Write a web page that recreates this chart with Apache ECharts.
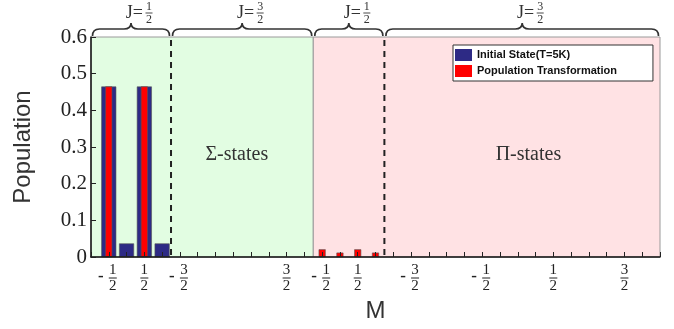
<!DOCTYPE html>
<html><head><meta charset="utf-8">
<script src="https://cdn.jsdelivr.net/npm/echarts@6/dist/echarts.min.js"></script>
<style>html,body{margin:0;padding:0;background:#fff}#c{width:674px;height:329px}</style>
</head><body><div id="c"></div>
<script>
// ---- data ----
const mPositions   = [1, 2, 3, 4, 13, 14, 15, 16];
const initialState = [0.465, 0.037, 0.465, 0.037, 0, 0, 0, 0];
const transformed  = [0.465, 0, 0.465, 0, 0.021, 0.012, 0.021, 0.012];

const tickLabelPos  = [1, 3, 5, 11, 13, 15, 18, 22, 26, 30];
const tickLabelSign = ['-', '', '-', '', '-', '', '-', '-', '', ''];
const tickLabelNum  = ['1', '1', '3', '3', '1', '1', '3', '1', '1', '3'];
const tickLabelDen  = ['2', '2', '2', '2', '2', '2', '2', '2', '2', '2'];

const braceStart = [0, 4.5, 12.5, 16.5];
const braceEnd   = [4.5, 12.5, 16.5, 32];
const braceNum   = ['1', '3', '1', '3'];
const braceDen   = ['2', '2', '2', '2'];

const regionStart  = [0, 12.5];
const regionEnd    = [12.5, 32];
const regionNames  = ['Σ-states', 'Π-states'];
const regionLabelX = [8.2, 24.6];
const regionLabelY = [0.28, 0.28];

const dividers = [4.5, 16.5];
const xMin = 0, xMax = 32, yMin = 0, yMax = 0.6, yStep = 0.1;
const seriesNames = ['Initial State(T=5K)', 'Population Transformation'];

// ---- styles ----
const regionFills = ['#e2fde2', '#ffe2e4'];
const blue = '#2d2a85', red = '#ff0000';
const serif = 'Liberation Serif';

const chart = echarts.init(document.getElementById('c'), null, {renderer: 'canvas'});

function pairs(xs, ys) {
  const out = [];
  xs.forEach((x, i) => { if (ys[i] > 0) out.push([x, ys[i]]); });
  return out;
}

const xAxisBase = {
  type: 'value', min: xMin, max: xMax, interval: 1, z: 5,
  axisLine: {show: true, onZero: false, lineStyle: {color: '#111', width: 1.5}},
  axisTick: {show: true, inside: true, length: 5, lineStyle: {color: '#222', width: 1}},
  axisLabel: {show: false}, splitLine: {show: false}
};

const option = {
  animation: false,
  backgroundColor: '#fff',
  grid: {left: 91, right: 14, top: 37, bottom: 72, containLabel: false},
  legend: {
    data: seriesNames, orient: 'vertical', left: 453, top: 45,
    itemWidth: 17, itemHeight: 12, itemGap: 4,
    padding: [4, 36, 4, 2], backgroundColor: '#fff', borderColor: '#333', borderWidth: 1,
    icon: 'rect', z: 10,
    textStyle: {fontFamily: 'Liberation Sans', fontWeight: 'bold', fontSize: 11, color: '#111'},
    itemStyle: {borderWidth: 0}
  },
  xAxis: [
    Object.assign({}, xAxisBase, {name: 'M', nameLocation: 'middle', nameGap: 42,
      nameTextStyle: {fontFamily: 'Liberation Sans', fontSize: 24, color: '#333'}}),
    Object.assign({}, xAxisBase, {show: false})
  ],
  yAxis: {
    type: 'value', min: yMin, max: yMax, interval: yStep, z: 5,
    name: 'Population', nameLocation: 'middle', nameGap: 56,
    nameTextStyle: {fontFamily: 'Liberation Sans', fontSize: 24, color: '#333'},
    axisLine: {show: true, lineStyle: {color: '#111', width: 1.5}},
    axisTick: {show: true, inside: true, length: 5, lineStyle: {color: '#222'}},
    axisLabel: {fontFamily: serif, fontSize: 21, color: '#222', margin: 4},
    splitLine: {show: false}
  },
  series: [
    { // backgrounds
      type: 'custom', z: 1, silent: true,
      data: regionStart.map((s, i) => [s, regionEnd[i]]),
      renderItem: function (params, api) {
        const i = params.dataIndex;
        const a = api.coord([regionStart[i], yMax]);
        const b = api.coord([regionEnd[i], yMin]);
        return {type: 'rect', shape: {x: a[0], y: a[1], width: b[0] - a[0], height: b[1] - a[1]},
          style: {fill: regionFills[i], stroke: '#9a9a9a', lineWidth: 1}};
      }
    },
    { // region names
      type: 'custom', z: 2, silent: true,
      data: regionLabelX.map((x, i) => [x, regionLabelY[i]]),
      renderItem: function (params, api) {
        const i = params.dataIndex;
        const p = api.coord([regionLabelX[i], regionLabelY[i]]);
        return {type: 'text', x: p[0], y: p[1],
          style: {text: regionNames[i], fontFamily: serif, fontSize: 20, fill: '#333', align: 'center', verticalAlign: 'middle'}};
      }
    },
    { // dashed dividers
      type: 'custom', z: 2, silent: true,
      data: dividers.map(d => [d, yMax]),
      renderItem: function (params, api) {
        const d = dividers[params.dataIndex];
        const a = api.coord([d, yMax]);
        const b = api.coord([d, yMin]);
        return {type: 'line', shape: {x1: a[0], y1: a[1] + 3, x2: b[0], y2: b[1]},
          style: {stroke: '#222', lineWidth: 2, lineDash: [6, 5]}};
      }
    },
    {
      name: seriesNames[0], type: 'bar', xAxisIndex: 0, z: 3, barWidth: 15,
      data: pairs(mPositions, initialState),
      itemStyle: {color: blue, borderColor: '#555', borderWidth: 0.6}
    },
    {
      name: seriesNames[1], type: 'bar', xAxisIndex: 1, z: 4, barWidth: 7,
      data: pairs(mPositions, transformed),
      itemStyle: {color: red, borderColor: '#555', borderWidth: 0.6}
    },
    { // fraction tick labels
      type: 'custom', z: 6, silent: true,
      data: tickLabelPos.map(p => [p, 0]),
      renderItem: function (params, api) {
        const i = params.dataIndex;
        const p = api.coord([tickLabelPos[i], yMin]);
        const hasSign = tickLabelSign[i] !== '';
        const cx = p[0] + (hasSign ? 4 : 0);
        const y0 = p[1];
        const children = [
          {type: 'text', x: cx, y: y0 + 13, style: {text: tickLabelNum[i], fontFamily: serif, fontSize: 15, fill: '#222', align: 'center', verticalAlign: 'middle'}},
          {type: 'line', shape: {x1: cx - 4, y1: y0 + 21, x2: cx + 4, y2: y0 + 21}, style: {stroke: '#222', lineWidth: 1}},
          {type: 'text', x: cx, y: y0 + 29, style: {text: tickLabelDen[i], fontFamily: serif, fontSize: 15, fill: '#222', align: 'center', verticalAlign: 'middle'}}
        ];
        if (hasSign) children.push({type: 'text', x: p[0] - 8, y: y0 + 20,
          style: {text: tickLabelSign[i], fontFamily: serif, fontWeight: 'bold', fontSize: 17, fill: '#222', align: 'center', verticalAlign: 'middle'}});
        return {type: 'group', children: children};
      }
    },
    { // J braces
      type: 'custom', z: 6, silent: true,
      data: braceStart.map((s, i) => [s, braceEnd[i]]),
      renderItem: function (params, api) {
        const i = params.dataIndex;
        const a = api.coord([braceStart[i], yMax]);
        const b = api.coord([braceEnd[i], yMax]);
        const x0 = a[0] + 1.5, x1 = b[0] - 1.5, xm = (a[0] + b[0]) / 2;
        const yb = a[1] - 1, ym = a[1] - 8, ya = a[1] - 14, r = 7;
        const path = `M${x0} ${yb} Q${x0} ${ym} ${x0 + r} ${ym} L${xm - r} ${ym} Q${xm} ${ym} ${xm} ${ya} ` +
          `Q${xm} ${ym} ${xm + r} ${ym} L${x1 - r} ${ym} Q${x1} ${ym} ${x1} ${yb}`;
        const ty = a[1] - 24;
        return {type: 'group', children: [
          {type: 'path', shape: {pathData: path}, style: {fill: 'none', stroke: '#333', lineWidth: 1.7}},
          {type: 'text', x: xm + 12, y: ty, style: {text: 'J=', fontFamily: serif, fontSize: 18, fill: '#333', align: 'right', verticalAlign: 'middle'}},
          {type: 'text', x: xm + 18, y: ty - 6, style: {text: braceNum[i], fontFamily: serif, fontSize: 12, fill: '#333', align: 'center', verticalAlign: 'middle'}},
          {type: 'line', shape: {x1: xm + 14.5, y1: ty, x2: xm + 21.5, y2: ty}, style: {stroke: '#333', lineWidth: 0.9}},
          {type: 'text', x: xm + 18, y: ty + 6.5, style: {text: braceDen[i], fontFamily: serif, fontSize: 12, fill: '#333', align: 'center', verticalAlign: 'middle'}}
        ]};
      }
    }
  ]
};
chart.setOption(option);
</script></body></html>
